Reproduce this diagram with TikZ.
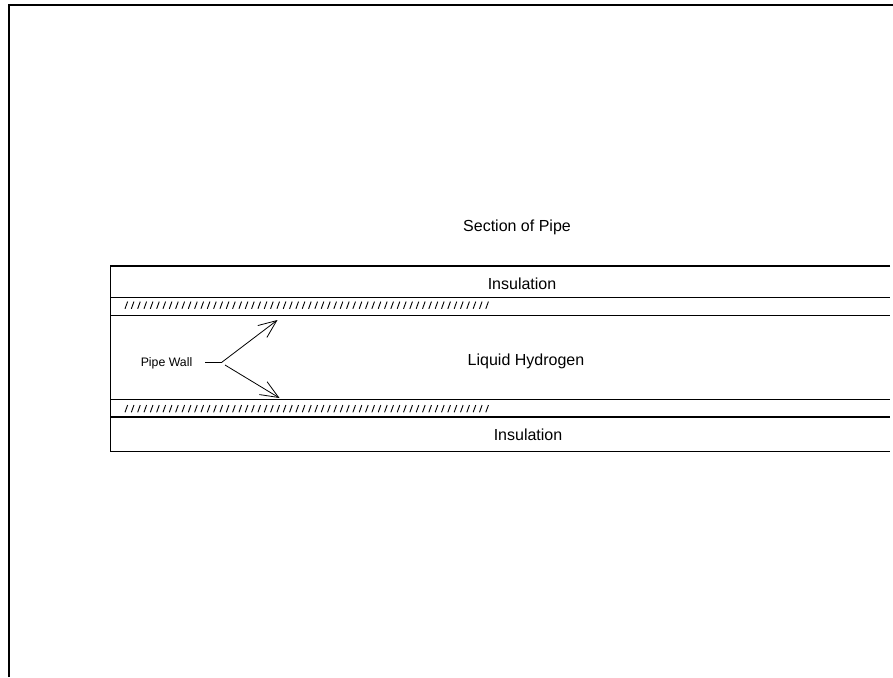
\documentclass[tikz,border=0pt]{standalone}
\usepackage{fontspec}
\setmainfont{Liberation Sans}
\usetikzlibrary{arrows.meta, positioning}

\begin{document}
\begin{tikzpicture}[
  x=1pt, y=-1pt,
  >={Straight Barb[length=18pt, width=15pt, line width=0.8pt]},
  label/.style={inner sep=0pt, font=\fontsize{16}{18}\selectfont},
  smalllabel/.style={inner sep=0pt, font=\fontsize{12.3}{14}\selectfont},
  frame/.style={line width=1.6pt},
  wall/.style={line width=1.2pt},
  hatch/.style={line width=0.9pt},
  pointer/.style={line width=0.8pt}
]
  \useasboundingbox (0, 0) rectangle (893, 677);
  \draw[frame] (9, 677) -- (9, 5) -- (893, 5);

  \draw[wall] (890, 266) -- (110.5, 266) -- (110.5, 451.5) -- (890, 451.5);
  \draw[wall] (110.5, 297.5) -- (890, 297.5);
  \draw[wall, line width=0.9pt] (110.5, 315.5) -- (890, 315.5);
  \draw[wall, line width=0.9pt] (110.5, 399.5) -- (890, 399.5);
  \draw[wall] (110.5, 417) -- (890, 417);

  \foreach \i in {0,...,57} {
    \draw[hatch] ({125 + 6.33*\i}, 308.8) -- ++(2.6, -7.2);
    \draw[hatch] ({125 + 6.33*\i}, 412.3) -- ++(2.6, -7.2);
  }

  \node[label] (title) at (517, 227) {Section of Pipe};
  \node[label] (insulationtop) at (522, 284) {Insulation};
  \node[label] (hydrogen) at (526, 361) {Liquid Hydrogen};
  \node[label] (insulationbottom) at (528, 434.5) {Insulation};
  \node[smalllabel] (pipewall) at (166.5, 363) {Pipe Wall};

  \coordinate (fork) at (221.5, 362.5);
  \coordinate (forklow) at (225, 365);
  \coordinate (walltop) at (277.5, 320);
  \coordinate (wallbottom) at (279.5, 398);
  \draw[pointer, line width=1.1pt] (205, 362.5) -- (fork);
  \draw[->, pointer] (fork) -- (walltop);
  \draw[->, pointer] (forklow) -- (wallbottom);
\end{tikzpicture}
\end{document}
